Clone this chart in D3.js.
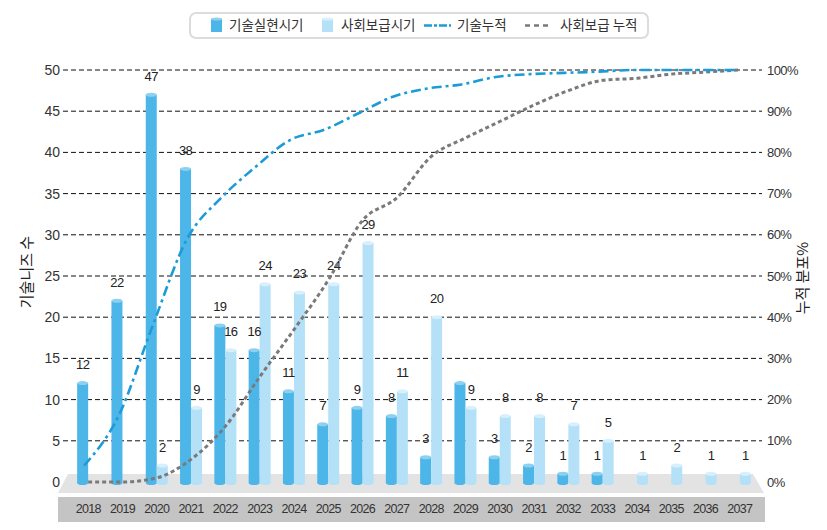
<!DOCTYPE html>
<html><head><meta charset="utf-8">
<script src="https://cdn.jsdelivr.net/npm/d3@7"></script>
<style>body{margin:0;background:#fff}svg{display:block}</style>
</head><body>
<svg id="chart" width="827" height="530"></svg>
<script>
const years = ["2018","2019","2020","2021","2022","2023","2024","2025","2026","2027","2028","2029","2030","2031","2032","2033","2034","2035","2036","2037"];
const techValues = [12,22,47,38,19,16,11,7,9,8,3,12,3,2,1,1,0,0,0,0];
const techLabelShown = [1,1,1,1,1,1,1,1,1,1,1,0,1,1,1,1,0,0,0,0];
const socialValues = [0,0,2,9,16,24,23,24,29,11,20,9,8,8,7,5,1,2,1,1];
const techCum = [4,16,38,59,69,76.5,83,85.5,89.5,93.5,95.5,96.5,98.3,99,99.3,99.6,100,100,100,100];
const socialCum = [0,0,1,5.5,13.5,25.5,37,49,63.5,69,79,83.5,87.5,91.5,95,97.5,98,99,99.5,100];
const leftTicks = [0,5,10,15,20,25,30,35,40,45,50];
const rightTicks = [0,10,20,30,40,50,60,70,80,90,100];
const seriesNames = ["기술실현시기","사회보급시기","기술누적","사회보급 누적"];

const svg = d3.select("#chart");
const font = "'Liberation Sans', Arial, sans-serif";
const kfont = "'Noto Sans CJK KR', 'Noto Sans', sans-serif";
const darkC = "#4cb6e8", darkTop = "#8dd0f0";
const lightC = "#b4e1f7", lightTop = "#d8f0fb";

const x = d3.scaleBand().domain(years).range([71, 757]).padding(0);
const yL = d3.scaleLinear().domain([0, 50]).range([482, 70]);
const yR = d3.scaleLinear().domain([0, 100]).range([482, 70]);
const bw = 11;

// floor
const floorTop = 474, floorMid = 493;
svg.append("path").attr("d", `M68,${floorTop} L753,${floorTop} L764,${floorMid} L58,${floorMid} Z`).attr("fill", "#e3e3e3");
svg.append("rect").attr("x", 58).attr("y", 497).attr("width", 707).attr("height", 25).attr("fill", "#c4c4c4");

// gridlines
svg.append("g").selectAll("line").data(leftTicks.filter(d => d > 0)).join("line")
  .attr("x1", 63).attr("x2", 762).attr("y1", d => yL(d)).attr("y2", d => yL(d))
  .attr("stroke", "#111").attr("stroke-width", 1).attr("stroke-dasharray", "5,3");

// left axis
const axL = d3.axisLeft(yL).tickValues(leftTicks).tickSize(0).tickPadding(0);
const gL = svg.append("g").attr("transform", "translate(60,0)").call(axL);
gL.select(".domain").remove();
gL.selectAll("text").attr("font-family", font).attr("font-size", 14).attr("fill", "#333");

// right axis
const axR = d3.axisRight(yR).tickValues(rightTicks).tickSize(0).tickPadding(0).tickFormat(d => d + "%");
const gR = svg.append("g").attr("transform", "translate(767,0)").call(axR);
gR.select(".domain").remove();
gR.selectAll("text").attr("font-family", font).attr("font-size", 13).attr("fill", "#333").attr("letter-spacing", "-0.6");

// bars
function cyl(g, data, off, fill, top) {
  const grp = g.append("g");
  data.forEach((v, i) => {
    if (v <= 0) return;
    const cx = x(years[i]) + x.bandwidth() / 2 + off;
    const y0 = yL(0), y1 = yL(v);
    grp.append("ellipse").attr("cx", cx).attr("cy", y0 + 1).attr("rx", bw / 2).attr("ry", 2).attr("fill", fill);
    grp.append("rect").attr("x", cx - bw / 2).attr("y", y1).attr("width", bw).attr("height", y0 + 1 - y1).attr("fill", fill);
    grp.append("ellipse").attr("cx", cx).attr("cy", y1).attr("rx", bw / 2).attr("ry", 2).attr("fill", top);
  });
}
cyl(svg, techValues, -bw / 2, darkC, darkTop);
cyl(svg, socialValues, bw / 2, lightC, lightTop);

// value labels
const lab = svg.append("g").attr("font-family", font).attr("font-size", 13).attr("fill", "#222").attr("text-anchor", "middle").attr("letter-spacing", "-0.6");
techValues.forEach((v, i) => {
  if (v > 0 && techLabelShown[i]) lab.append("text").attr("x", x(years[i]) + x.bandwidth() / 2 - bw / 2).attr("y", yL(v) - 14).text(v);
});
socialValues.forEach((v, i) => {
  if (v > 0) lab.append("text").attr("x", x(years[i]) + x.bandwidth() / 2 + bw / 2).attr("y", yL(v) - 14).text(v);
});

// lines
const line = (off) => d3.line().x((d, i) => x(years[i]) + x.bandwidth() / 2 + off).y(d => yR(d)).curve(d3.curveMonotoneX);
svg.append("path").datum(socialCum).attr("d", line(0)).attr("fill", "none").attr("stroke", "#7a7a7a").attr("stroke-width", 3).attr("stroke-dasharray", "4,3");
svg.append("path").datum(techCum).attr("d", line(-4)).attr("fill", "none").attr("stroke", "#1b9bd7").attr("stroke-width", 2.6).attr("stroke-dasharray", "10,4,3,4");

// year labels
const axB = d3.axisBottom(x).tickSize(0).tickPadding(0);
const gB = svg.append("g").attr("transform", "translate(0,509)").call(axB);
gB.select(".domain").remove();
gB.selectAll("text").attr("font-family", font).attr("font-size", 12.5).attr("fill", "#333").attr("letter-spacing", "-0.7").attr("dy", "0.3em");

// axis titles
svg.append("text").attr("transform", "translate(32,272) rotate(-90)").attr("text-anchor", "middle")
  .attr("font-family", kfont).attr("font-size", 15).attr("fill", "#222").text("기술니즈 수");
svg.append("text").attr("transform", "translate(808,278) rotate(-90)").attr("text-anchor", "middle")
  .attr("font-family", kfont).attr("font-size", 15).attr("fill", "#222").text("누적 분포%");

// legend
const lg = svg.append("g");
lg.append("rect").attr("x", 190).attr("y", 13).attr("width", 458).attr("height", 25).attr("rx", 6)
  .attr("fill", "#fff").attr("stroke", "#dcdcdc").attr("stroke-width", 2);
const ly = 25.5;
lg.append("rect").attr("x", 211).attr("y", 19).attr("width", 11).attr("height", 13).attr("fill", darkC);
lg.append("ellipse").attr("cx", 216.5).attr("cy", 19).attr("rx", 5.5).attr("ry", 1.5).attr("fill", darkTop);
lg.append("rect").attr("x", 322).attr("y", 19).attr("width", 11).attr("height", 13).attr("fill", lightC);
lg.append("ellipse").attr("cx", 327.5).attr("cy", 19).attr("rx", 5.5).attr("ry", 1.5).attr("fill", lightTop);
lg.append("line").attr("x1", 424).attr("x2", 451).attr("y1", ly).attr("y2", ly).attr("stroke", "#1b9bd7").attr("stroke-width", 2.6).attr("stroke-dasharray", "8,2,3,2");
lg.append("line").attr("x1", 525).attr("x2", 548).attr("y1", ly).attr("y2", ly).attr("stroke", "#7a7a7a").attr("stroke-width", 2.6).attr("stroke-dasharray", "5,4");
const lx = [229, 341, 457, 560];
lg.selectAll("text.lt").data(seriesNames).join("text").attr("class", "lt")
  .attr("x", (d, i) => lx[i]).attr("y", ly).attr("dy", "0.35em")
  .attr("font-family", kfont).attr("font-size", 13.5).attr("fill", "#333").text(d => d);
</script>
</body></html>
